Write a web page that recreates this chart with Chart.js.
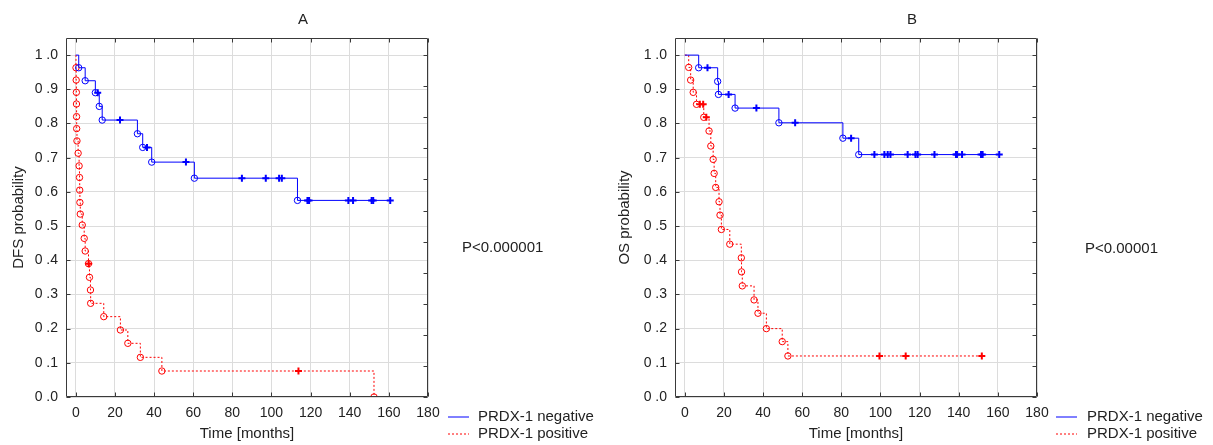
<!DOCTYPE html>
<html>
<head>
<meta charset="utf-8">
<title>PRDX-1 survival curves</title>
<script src="https://cdn.jsdelivr.net/npm/chart.js@4.4.0/dist/chart.umd.min.js"></script>
<style>
  body { margin: 0; background: #fff; font-family: "Liberation Sans", Arial, sans-serif; color: #222; }
  #wrap { position: relative; width: 1213px; height: 445px; overflow: hidden; }
  canvas { position: absolute; top: 0; }
  #chartA { left: 0; }
  #chartB { left: 606px; }
  .txt { position: absolute; font-size: 15px; line-height: 18px; white-space: nowrap; }
  .ttl { position: absolute; top: 10px; width: 40px; text-align: center; font-size: 15px; line-height: 18px; }
  .sw { position: absolute; }
</style>
</head>
<body>
<div id="wrap">
  <canvas id="chartA" width="606" height="445"></canvas>
  <canvas id="chartB" width="607" height="445"></canvas>

  <div class="ttl" style="left:283px;">A</div>
  <div class="ttl" style="left:892px;">B</div>

  <div class="txt" style="left:462px; top:238px;">P&lt;0.000001</div>
  <div class="txt" style="left:1085px; top:239px;">P&lt;0.00001</div>

  <!-- legends -->
  <svg class="sw" style="left:448px; top:415px;" width="21" height="4"><line x1="0" y1="2" x2="21" y2="2" stroke="#0000ff" stroke-width="1"/></svg>
  <div class="txt" style="left:478px; top:407px;">PRDX-1 negative</div>
  <svg class="sw" style="left:448px; top:432px;" width="21" height="4"><line x1="0" y1="2" x2="21" y2="2" stroke="#ff0000" stroke-width="1" stroke-dasharray="2,2"/></svg>
  <div class="txt" style="left:478px; top:424px;">PRDX-1 positive</div>

  <svg class="sw" style="left:1056px; top:415px;" width="21" height="4"><line x1="0" y1="2" x2="21" y2="2" stroke="#0000ff" stroke-width="1"/></svg>
  <div class="txt" style="left:1087px; top:407px;">PRDX-1 negative</div>
  <svg class="sw" style="left:1056px; top:432px;" width="21" height="4"><line x1="0" y1="2" x2="21" y2="2" stroke="#ff0000" stroke-width="1" stroke-dasharray="2,2"/></svg>
  <div class="txt" style="left:1087px; top:424px;">PRDX-1 positive</div>
</div>

<script>
// ============================================================
// DATA — Kaplan-Meier curves
// marks: 'o' = event (circle), '+' = censored, '' = no marker
// ============================================================

// ---- Panel A: DFS ----
const aNegTime = [0, 1.5, 4.8, 10, 11.2, 12, 13.5, 22.6, 31.5, 34.2, 36.4, 38.8, 56.3, 60.6,
                  84.9, 97.1, 103.9, 105.3, 113.3, 118.4, 119.2, 139.3, 141.7, 151.2, 152, 160.7];
const aNegSurv = [1, .963, .925, .89, .89, .85, .81, .81, .77, .73, .73, .687, .687, .64,
                  .64, .64, .64, .64, .575, .575, .575, .575, .575, .575, .575, .575];
const aNegMark = ['', 'o', 'o', 'o', '+', 'o', 'o', '+', 'o', 'o', '+', 'o', '+', 'o',
                  '+', '+', '+', '+', 'o', '+', '+', '+', '+', '+', '+', '+'];

const aPosTime = [0, 0.1, 0.2, 0.3, 0.35, 0.4, 0.45, 0.6, 1.2, 1.7, 1.9, 2.0, 2.1, 2.3, 3.3,
                  4.3, 4.8, 6.5, 6.6, 7.0, 7.5, 7.6, 14.3, 22.8, 26.6, 33, 44, 113.8, 152.4];
const aPosSurv = [1, .963, .927, .891, .857, .82, .785, .749, .713, .676, .642, .605, .569, .535, .503,
                  .464, .427, .39, .39, .35, .313, .274, .235, .196, .157, .116, .076, .076, 0];
const aPosMark = ['', 'o', 'o', 'o', 'o', 'o', 'o', 'o', 'o', 'o', 'o', 'o', 'o', 'o', 'o',
                  'o', 'o', 'o', '+', 'o', 'o', 'o', 'o', 'o', 'o', 'o', 'o', '+', 'o'];

// ---- Panel B: OS ----
const bNegTime = [0, 7.1, 11.6, 16.8, 17.2, 22.4, 25.7, 36.6, 48.1, 56.4, 80.8, 85, 88.9,
                  96.9, 102, 103.7, 105.1, 113.9, 117.9, 119, 127.6, 138.6, 139.1, 141.7, 151.4, 152.2, 160.7];
const bNegSurv = [1, .963, .963, .923, .885, .885, .845, .845, .802, .802, .757, .757, .709,
                  .709, .709, .709, .709, .709, .709, .709, .709, .709, .709, .709, .709, .709, .709];
const bNegMark = ['', 'o', '+', 'o', 'o', '+', 'o', '+', 'o', '+', 'o', '+', 'o',
                  '+', '+', '+', '+', '+', '+', '+', '+', '+', '+', '+', '+', '+', '+'];

const bPosTime = [0, 2, 3, 4.3, 6, 7.7, 9.4, 9.7, 11, 12.4, 13.3, 14.5, 15, 15.8, 17.5, 18, 18.7,
                  23, 28.9, 29, 29.4, 35.4, 37.4, 41.7, 49.8, 52.7, 99.5, 112.9, 151.8];
const bPosSurv = [1, .964, .927, .891, .856, .856, .856, .818, .818, .778, .734, .695, .654, .613, .571, .532, .49,
                  .447, .407, .366, .325, .284, .245, .2, .162, .12, .12, .12, .12];
const bPosMark = ['', 'o', 'o', 'o', 'o', '+', '+', 'o', '+', 'o', 'o', 'o', 'o', 'o', 'o', 'o', 'o',
                  'o', 'o', 'o', 'o', 'o', 'o', 'o', 'o', 'o', '+', '+', '+'];

// axis ticks
const xTicksStep = 20;
const yTicksStep = 0.1;

// ============================================================
// HELPERS
// ============================================================
const BLUE = '#0000ff';
const RED  = '#ff0000';
const INK  = '#222';

function kmDataset(label, times, surv, marks, color, dash) {
  return {
    label,
    data: times.map((t, i) => ({ x: t, y: surv[i] })),
    borderColor: color,
    borderWidth: 1,
    borderDash: dash,
    stepped: 'before',          // horizontal first, then drop
    fill: false,
    pointStyle: marks.map(m => m === '+' ? 'cross' : 'circle'),
    pointRadius: marks.map(m => m === '' ? 0 : (m === '+' ? 3.5 : 3.2)),
    pointBorderWidth: marks.map(m => m === '+' ? 2 : 1),
    pointBorderColor: color,
    pointBackgroundColor: 'rgba(0,0,0,0)',
  };
}

// Statistica-style frame with short inward ticks
const framePlugin = {
  id: 'frame',
  afterDatasetsDraw(chart) {
    const { ctx, chartArea: a, scales: { x, y } } = chart;
    const L = Math.round(a.left) + 0.5, R = Math.round(a.right) - 0.5;
    const T = Math.round(a.top) + 0.5,  B = Math.round(a.bottom) - 0.5;
    ctx.save();
    ctx.strokeStyle = '#3a3a3a';
    ctx.lineWidth = 1;
    ctx.beginPath();
    ctx.rect(L, T, R - L, B - T);
    x.ticks.forEach(t => {
      const px = Math.round(x.getPixelForValue(t.value)) + 0.5;
      ctx.moveTo(px, B); ctx.lineTo(px, B - 4);
      ctx.moveTo(px, T); ctx.lineTo(px, T + 4);
    });
    y.ticks.forEach(t => {
      const py = Math.round(y.getPixelForValue(t.value)) + 0.5;
      ctx.moveTo(L, py); ctx.lineTo(L + 4, py);
    });
    for (let k = 0; k <= 11; k++) {
      const py = Math.round(y.getPixelForValue(k / 11)) + 0.5;
      ctx.moveTo(R, py); ctx.lineTo(R - 4, py);
    }
    ctx.stroke();
    ctx.restore();
  }
};

function makeKM(id, yTitle, leftW, rightPad, neg, pos) {
  return new Chart(document.getElementById(id), {
    type: 'line',
    data: {
      datasets: [
        kmDataset('PRDX-1 negative', neg[0], neg[1], neg[2], BLUE, []),
        kmDataset('PRDX-1 positive', pos[0], pos[1], pos[2], RED, [2, 2]),
      ]
    },
    options: {
      responsive: false,
      animation: false,
      events: [],
      layout: { padding: { left: 0, right: rightPad, top: 38, bottom: 0 } },
      plugins: {
        legend: { display: false },
        tooltip: { enabled: false },
        title: { display: false }
      },
      scales: {
        x: {
          type: 'linear', min: -5, max: 180,
          ticks: { stepSize: xTicksStep, includeBounds: false, padding: 8, color: INK,
                   font: { family: 'Liberation Sans', size: 14 } },
          grid: { color: '#dcdcdc', drawTicks: false },
          border: { display: false },
          title: { display: true, text: 'Time [months]', color: INK,
                   font: { family: 'Liberation Sans', size: 15 }, padding: { top: 0, bottom: 2 } },
          afterFit: s => { s.height = 48; }
        },
        y: {
          type: 'linear', min: 0, max: 1.05,
          ticks: { stepSize: yTicksStep, includeBounds: false, padding: 8, color: INK,
                   font: { family: 'Liberation Sans', size: 14 },
                   callback: v => v.toFixed(1).replace('.', ' .') },
          grid: { color: '#dcdcdc', drawTicks: false },
          border: { display: false },
          title: { display: true, text: yTitle, color: INK,
                   font: { family: 'Liberation Sans', size: 15 }, padding: { top: 10, bottom: 0 } },
          afterFit: s => { s.width = leftW; }
        }
      }
    },
    plugins: [framePlugin]
  });
}

// ============================================================
// PANELS
// ============================================================
makeKM('chartA', 'DFS probability', 66, 178,
       [aNegTime, aNegSurv, aNegMark], [aPosTime, aPosSurv, aPosMark]);
makeKM('chartB', 'OS probability', 69, 176,
       [bNegTime, bNegSurv, bNegMark], [bPosTime, bPosSurv, bPosMark]);
</script>
</body>
</html>
